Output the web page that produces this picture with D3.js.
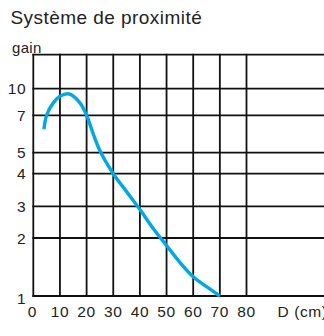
<!DOCTYPE html>
<html>
<head>
<meta charset="utf-8">
<script src="https://cdn.jsdelivr.net/npm/d3@7"></script>
<style>
  html, body { margin: 0; padding: 0; background: #fff; overflow: hidden; }
  svg { display: block; font-family: "Liberation Sans", Arial, Helvetica, sans-serif; }
</style>
</head>
<body>
<svg id="chart" width="324" height="336"></svg>
<script>
// Gain response of the proximity sensor versus distance D (cm)
const distance = [4, 5, 7.5, 10, 13.5, 17.5, 20, 22.5, 25, 30, 35, 40, 45, 50, 55, 60, 65, 70];
const gain     = [6.25, 7.0, 8.4, 9.15, 9.4, 8.4, 7.0, 6.0, 5.1, 4.0, 3.45, 2.9, 2.3, 1.87, 1.58, 1.33, 1.16, 1.0];

const xTicks = [0, 10, 20, 30, 40, 50, 60, 70, 80];
const yTicks = [1, 2, 3, 4, 5, 7, 10];
const yTop = 15;                      // unlabelled top rule of the grid
const title = "Système de proximité";
const yTitle = "gain";
const xTitle = "D (cm)";

const svg = d3.select("#chart");

const plotLeft = 33.3, plotBottom = 296, plotTop = 54.7;
const plotH = plotBottom - plotTop;

const x = d3.scaleLinear().domain([0, 110]).range([plotLeft, plotLeft + 110 * 2.665]);

// The gain axis is graduated unevenly; each graduation sits at its own share of the height.
const yShare = [0, 0.2404, 0.3717, 0.5068, 0.5939, 0.7489, 0.8591, 1];
const y = d3.scaleLinear()
  .domain([...yTicks, yTop])
  .range(yShare.map(s => plotBottom - s * plotH));

const ink = "#222";

// Title and axis captions
svg.append("text").attr("x", 10.5).attr("y", 24)
  .attr("font-size", 19).attr("letter-spacing", 0.45).attr("fill", ink).text(title);
svg.append("text").attr("x", 12).attr("y", 52.5)
  .attr("font-size", 15).attr("letter-spacing", 0.3).attr("fill", ink).text(yTitle);

const grid = svg.append("g").attr("stroke", "#111").attr("stroke-width", 1.8);

// Horizontal rules (including the top rule)
grid.selectAll("line.h").data([...yTicks, yTop]).join("line")
  .attr("class", "h")
  .attr("x1", x(0) - 0.9).attr("x2", x(110))
  .attr("y1", d => y(d)).attr("y2", d => y(d));

// Vertical rules
grid.selectAll("line.v").data(xTicks).join("line")
  .attr("class", "v")
  .attr("x1", d => x(d)).attr("x2", d => x(d))
  .attr("y1", y(yTop) - 0.9).attr("y2", y(1) + 0.9);

// Y tick labels
svg.append("g").selectAll("text").data(yTicks).join("text")
  .attr("x", plotLeft - 7).attr("y", d => y(d) + (d === 1 ? 2 : 0))
  .attr("dy", "0.36em").attr("text-anchor", "end")
  .attr("font-size", 15.5).attr("letter-spacing", 0.6).attr("fill", ink)
  .text(d => d);

// X tick labels
svg.append("g").selectAll("text").data(xTicks).join("text")
  .attr("x", d => x(d) - (d === 0 ? 1 : 0)).attr("y", 316.5)
  .attr("text-anchor", "middle")
  .attr("font-size", 15.5).attr("letter-spacing", 0.6).attr("fill", ink)
  .text(d => d);

svg.append("text").attr("x", 277.5).attr("y", 316.5)
  .attr("font-size", 15.5).attr("letter-spacing", 0.6).attr("fill", ink).text(xTitle);

// Gain curve
const pts = distance.map((d, i) => [d, gain[i]]);
const line = d3.line()
  .x(d => x(d[0])).y(d => y(d[1]))
  .curve(d3.curveCatmullRom.alpha(0.5));

svg.append("path").datum(pts)
  .attr("d", line)
  .attr("fill", "none")
  .attr("stroke", "#00a8e6")
  .attr("stroke-width", 3.4)
  .attr("stroke-linecap", "butt");
</script>
</body>
</html>
